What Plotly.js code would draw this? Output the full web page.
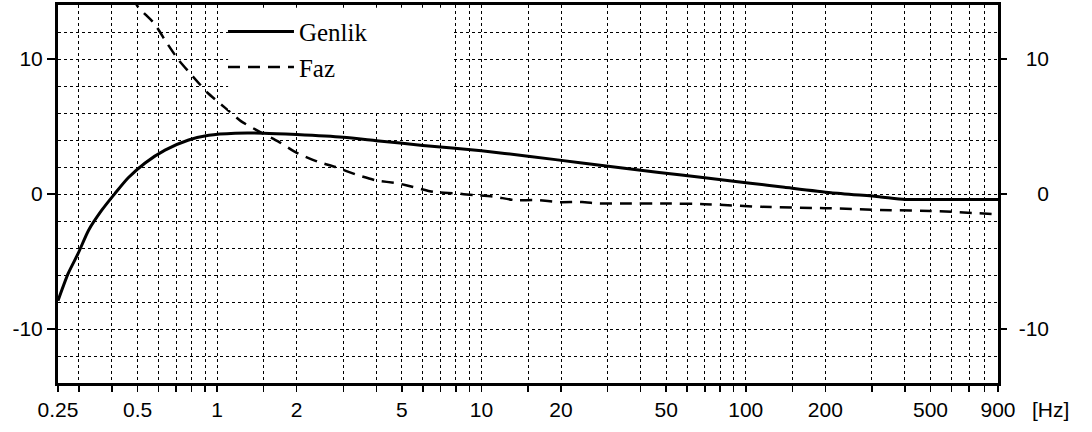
<!DOCTYPE html>
<html>
<head>
<meta charset="utf-8">
<script src="https://cdn.plot.ly/plotly-3.0.1.min.js"></script>
<style>html,body{margin:0;padding:0;background:#fff}#chart{width:1092px;height:432px}</style>
</head>
<body>
<div id="chart"></div>
<script>
// Frequency (Hz) and values
var genlikFreq = [0.25, 0.273, 0.298, 0.326, 0.366, 0.411, 0.461, 0.534, 0.635, 0.78, 0.93, 1.17, 1.5, 2, 3, 4, 6, 10, 15, 24, 47, 70, 104, 140, 210, 320, 400, 600, 900];
var genlikVal  = [-7.9, -5.9, -4.4, -2.7, -1.2, 0.05, 1.2, 2.3, 3.25, 4.0, 4.35, 4.5, 4.5, 4.4, 4.2, 3.95, 3.6, 3.2, 2.8, 2.3, 1.6, 1.2, 0.8, 0.5, 0.1, -0.2, -0.4, -0.4, -0.4];

var fazFreq = [0.48, 0.5, 0.58, 0.64, 0.71, 0.81, 0.92, 1.07, 1.23, 1.45, 1.7, 2.0, 2.4, 2.8, 3.4, 4.0, 4.8, 5.7, 6.6, 7.9, 9.3, 11.2, 13.3, 16.3, 19.5, 24, 28, 35, 50, 70, 115, 200, 355, 500, 900];
var fazVal  = [14.6, 13.9, 12.6, 11.3, 10.0, 8.7, 7.5, 6.4, 5.4, 4.6, 3.9, 3.05, 2.4, 2.0, 1.4, 1.0, 0.8, 0.45, 0.15, 0.05, -0.07, -0.2, -0.45, -0.45, -0.6, -0.6, -0.7, -0.7, -0.7, -0.75, -0.95, -1.05, -1.2, -1.25, -1.5];

// Axis tick / grid positions and labels
var xGridVals = [0.3, 0.4, 0.5, 0.6, 0.7, 0.8, 0.9, 1, 1.5, 2, 3, 4, 5, 6, 7, 8, 9, 10, 15, 20, 30, 40, 50, 60, 70, 80, 90, 100, 150, 200, 300, 400, 500, 600, 700, 800, 900];
var xLabelVals = [0.25, 0.5, 1, 2, 5, 10, 20, 50, 100, 200, 500, 900];
var xLabelText = ['0.25', '0.5', '1', '2', '5', '10', '20', '50', '100', '200', '500', '900'];
var yTickVals = [-10, 0, 10];
var yTickText = ['-10', '0', '10'];
var seriesNames = ['Genlik', 'Faz'];
var unitLabel = '[Hz]';

var tickVals = [0.25].concat(xGridVals);
var tickText = tickVals.map(function (v) {
  var i = xLabelVals.indexOf(v);
  return i >= 0 ? xLabelText[i] : '';
});

var traces = [
  {x: genlikFreq, y: genlikVal, name: seriesNames[0], type: 'scatter', mode: 'lines',
   line: {color: '#000', width: 3, shape: 'spline', smoothing: 0.6}, xaxis: 'x', yaxis: 'y'},
  {x: fazFreq, y: fazVal, name: seriesNames[1], type: 'scatter', mode: 'lines',
   line: {color: '#000', width: 2.5, dash: '12px,8px', shape: 'spline', smoothing: 0.5}, xaxis: 'x', yaxis: 'y2'}
];

var tickFont = {family: 'Liberation Sans, Arial, sans-serif', size: 21, color: '#000'};

var layout = {
  width: 1092, height: 432,
  margin: {l: 58, r: 94, t: 5, b: 49},
  paper_bgcolor: '#fff', plot_bgcolor: '#fff',
  showlegend: true,
  legend: {x: 0.1755, y: 0.99, xanchor: 'left', yanchor: 'top',
           bgcolor: 'rgba(0,0,0,0)', borderwidth: 0, itemwidth: 66,
           font: {family: 'Liberation Serif, Times New Roman, serif', size: 25, color: '#000'}},
  xaxis: {type: 'log', range: [Math.log10(0.25), Math.log10(900)],
          tickmode: 'array', tickvals: tickVals, ticktext: tickText,
          ticks: 'outside', ticklen: 6, tickwidth: 1.5, tickcolor: '#000',
          showgrid: true, gridcolor: '#000', griddash: 'dot', gridwidth: 1,
          showline: true, linewidth: 3, linecolor: '#000', mirror: true,
          zeroline: false, tickfont: tickFont, fixedrange: true},
  yaxis: {range: [-14, 14], tickmode: 'array', tickvals: yTickVals, ticktext: yTickText,
          ticks: 'outside', ticklen: 8, tickwidth: 1.5, tickcolor: '#000',
          showgrid: true, gridcolor: '#000', griddash: 'dot', gridwidth: 1,
          minor: {dtick: 2, tick0: 0, showgrid: true, gridcolor: '#000', griddash: 'dot', gridwidth: 1, ticks: ''},
          showline: true, linewidth: 3, linecolor: '#000', mirror: true,
          zeroline: false, tickfont: tickFont, fixedrange: true},
  yaxis2: {range: [-14, 14], overlaying: 'y', side: 'right', anchor: 'x',
           tickmode: 'array', tickvals: yTickVals, ticktext: yTickText,
           ticks: 'outside', ticklen: 8, tickwidth: 1.5, tickcolor: '#000',
           ticklabelposition: 'inside', ticklabelstandoff: -54,
           showgrid: false, zeroline: false, showline: false,
           tickfont: tickFont, fixedrange: true},
  shapes: [{type: 'rect', xref: 'paper', yref: 'paper', x0: 0.181, x1: 0.419, y0: 0.722, y1: 0.993,
            fillcolor: '#fff', line: {width: 0}, layer: 'above'}],
  annotations: [{text: unitLabel, xref: 'paper', yref: 'paper', x: 1.034, y: -0.071,
                 xanchor: 'left', yanchor: 'middle', showarrow: false, font: tickFont}]
};

Plotly.newPlot('chart', traces, layout, {staticPlot: true, displayModeBar: false});
</script>
</body>
</html>
